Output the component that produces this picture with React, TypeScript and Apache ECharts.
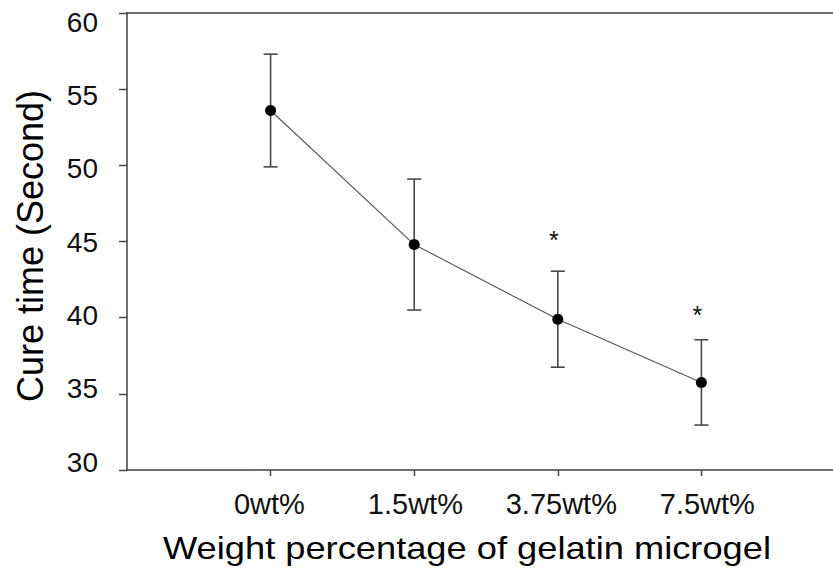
import React, { useEffect, useRef } from "react";
import * as echarts from "echarts";

const categories = ["0wt%", "1.5wt%", "3.75wt%", "7.5wt%"];
const cureTime = [53.6, 44.8, 39.9, 35.75];
const errorSD = [3.7, 4.3, 3.15, 2.8];
const significanceY: (number | null)[] = [null, null, 45.4, 40.5];
const yTicks = { min: 30, max: 60, interval: 5 };
const xTitle = "Weight percentage of gelatin microgel";
const yTitle = "Cure time (Second)";

const FONT = "'Liberation Sans', Arial, sans-serif";
const AXIS_COLOR = "#404040";

export default function App() {
  const ref = useRef<HTMLDivElement>(null);
  useEffect(() => {
    if (!ref.current) return;
    const chart = echarts.init(ref.current, null, { renderer: "svg" });
    const pts = cureTime.map((v, i) => [i + 1, v]);
    const errs = cureTime.map((v, i) => [i + 1, v - errorSD[i], v + errorSD[i]]);
    const sigs = significanceY
      .map((v, i) => (v == null ? null : [i + 1, v]))
      .filter((d) => d != null);

    // main plot: x unit = 143.6 px, starting at x=127, extends to the page edge
    const mainW = 833 - 127;
    const mainMax = mainW / 143.6;
    const labW = 833 - 123.4;
    const labMax = labW / 146.6;

    chart.setOption({
      animation: false,
      backgroundColor: "#ffffff",
      grid: [
        { left: 127, top: 13, width: mainW, height: 457 },
        { left: 123.4, top: 22, width: labW, height: 440 },
      ],
      xAxis: [
        {
          type: "value",
          gridIndex: 0,
          min: 0,
          max: mainMax,
          interval: 1,
          position: "bottom",
          axisLine: { show: true, lineStyle: { color: AXIS_COLOR, width: 1.5 } },
          axisTick: {
            show: true,
            length: 6,
            customValues: [1, 2, 3, 4],
            lineStyle: { color: AXIS_COLOR, width: 1.4 },
          },
          axisLabel: { show: false },
          splitLine: { show: false },
        },
        {
          type: "value",
          gridIndex: 0,
          min: 0,
          max: mainMax,
          position: "top",
          axisLine: { show: true, onZero: false, lineStyle: { color: AXIS_COLOR, width: 1.5 } },
          axisTick: { show: false },
          axisLabel: { show: false },
          splitLine: { show: false },
        },
        {
          type: "value",
          gridIndex: 1,
          min: 0,
          max: labMax,
          interval: 1,
          axisLine: { show: false },
          axisTick: { show: false },
          splitLine: { show: false },
          axisLabel: {
            show: true,
            fontFamily: FONT,
            fontSize: 29,
            color: "#111",
            verticalAlign: "middle",
            margin: 42,
            formatter: (v: number) => categories[Math.round(v) - 1] ?? "",
          },
        },
      ],
      yAxis: [
        {
          type: "value",
          gridIndex: 0,
          min: yTicks.min,
          max: yTicks.max,
          interval: yTicks.interval,
          axisLine: { show: true, onZero: false, lineStyle: { color: AXIS_COLOR, width: 1.5 } },
          axisTick: { show: true, length: 8, lineStyle: { color: AXIS_COLOR, width: 1.4 } },
          axisLabel: { show: false },
          splitLine: { show: false },
        },
        {
          type: "value",
          gridIndex: 1,
          min: yTicks.min,
          max: yTicks.max,
          interval: yTicks.interval,
          axisLine: { show: false },
          axisTick: { show: false },
          splitLine: { show: false },
          axisLabel: {
            show: true,
            fontFamily: FONT,
            fontSize: 28,
            color: "#111",
            margin: 25.4,
          },
        },
      ],
      series: [
        {
          type: "custom",
          xAxisIndex: 0,
          yAxisIndex: 0,
          z: 1,
          data: errs,
          renderItem: (params: any, api: any) => {
            const x = api.value(0);
            const lo = api.coord([x, api.value(1)]);
            const hi = api.coord([x, api.value(2)]);
            const cap = 7;
            const style = { stroke: "#4a4a4a", lineWidth: 1.6 };
            return {
              type: "group",
              children: [
                { type: "line", shape: { x1: lo[0], y1: lo[1], x2: hi[0], y2: hi[1] }, style },
                { type: "line", shape: { x1: hi[0] - cap, y1: hi[1], x2: hi[0] + cap, y2: hi[1] }, style },
                { type: "line", shape: { x1: lo[0] - cap, y1: lo[1], x2: lo[0] + cap, y2: lo[1] }, style },
              ],
            };
          },
        },
        {
          type: "line",
          xAxisIndex: 0,
          yAxisIndex: 0,
          z: 3,
          data: pts,
          symbol: "circle",
          symbolSize: 11,
          itemStyle: { color: "#000" },
          lineStyle: { color: "#555", width: 1.1 },
        },
        {
          type: "custom",
          xAxisIndex: 0,
          yAxisIndex: 0,
          z: 4,
          data: sigs,
          renderItem: (params: any, api: any) => {
            const p = api.coord([api.value(0), api.value(1)]);
            return {
              type: "text",
              x: p[0] - 4,
              y: p[1] + 5,
              style: {
                text: "*",
                font: `25px ${FONT}`,
                fill: "#111",
                align: "center",
                verticalAlign: "middle",
              },
            };
          },
        },
      ],
      graphic: [
        {
          type: "text",
          x: 467,
          y: 548,
          scaleX: 1.17,
          style: {
            text: xTitle,
            font: `31px ${FONT}`,
            fill: "#000",
            align: "center",
            verticalAlign: "middle",
          },
        },
        {
          type: "text",
          x: 30.5,
          y: 246,
          rotation: Math.PI / 2,
          style: {
            text: yTitle,
            font: `36px ${FONT}`,
            fill: "#000",
            align: "center",
            verticalAlign: "middle",
          },
        },
      ],
    });
    return () => chart.dispose();
  }, []);

  return (
    <div
      ref={ref}
      style={{
        position: "fixed",
        left: 0,
        top: 0,
        width: 833,
        height: 573,
        overflow: "hidden",
        background: "#fff",
      }}
    />
  );
}
